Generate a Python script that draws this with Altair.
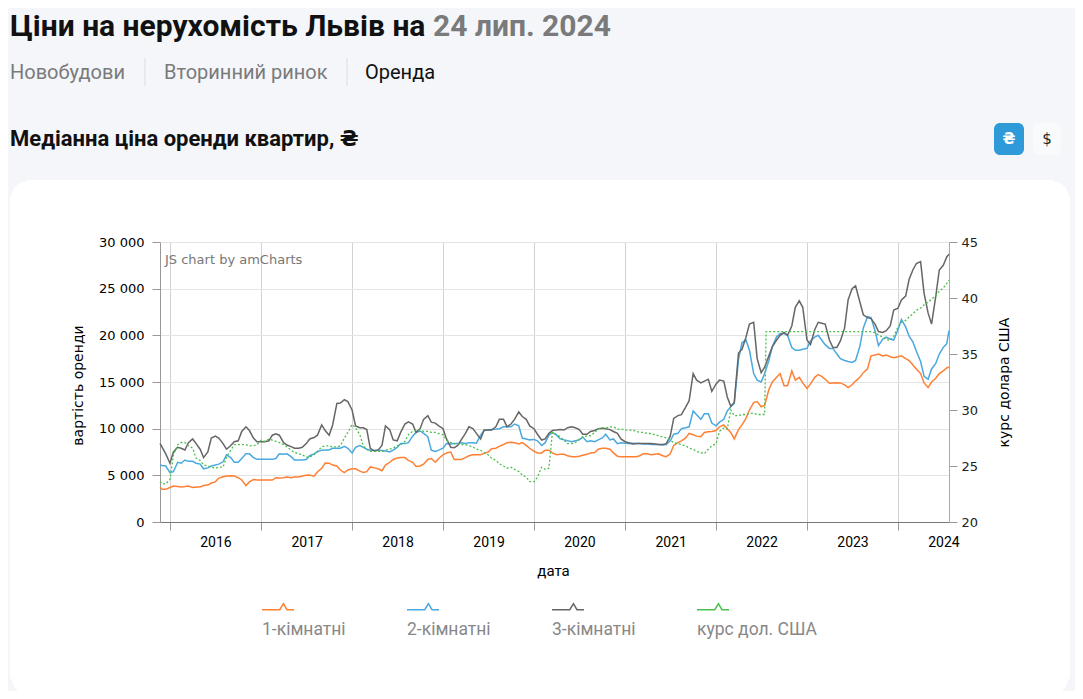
import altair as alt
import pandas as pd

# ---------------- text ----------------
TITLE_MAIN = "Ціни на нерухомість Львів на"
TITLE_DATE = "24 лип. 2024"
TABS = ["Новобудови", "Вторинний ринок", "Оренда"]
SUBTITLE = "Медіанна ціна оренди квартир, ₴"
SERIES = ["1-кімнатні", "2-кімнатні", "3-кімнатні", "курс дол. США"]
COLORS = ["#ff7f33", "#4aa9e0", "#666666", "#4cbf4c"]

# ---------------- data (1st and 15th of every month) ----------------
months = ([(2015, 12)] + [(y, m) for y in range(2016, 2024) for m in range(1, 13)]
          + [(2024, m) for m in range(1, 8)])
dates = (["2015-11-22"]
         + [f"{y}-{m:02d}-{d}" for (y, m) in months for d in ("01", "15")]
         + ["2024-07-24"])

rent_1 = [
    3700,
    3500, 3500,
    # 2016
    3700, 3860, 3800, 3750, 3800, 3860, 3700, 3750, 3750, 3910, 3960, 4180,
    4300, 4710, 4850, 4930, 4950, 4930, 4750, 4500, 3900, 4290, 4550, 4500,
    # 2017
    4500, 4500, 4500, 4500, 4750, 4710, 4750, 4820, 4750, 4820, 4820, 4930,
    5000, 5030, 4900, 5360, 5750, 6320, 6300, 6100, 6000, 5570, 5300, 5570,
    # 2018
    5700, 5700, 5450, 5300, 5400, 5900, 5800, 5700, 5500, 6100, 6400, 6700,
    6850, 6900, 6900, 6600, 6400, 5950, 6000, 6200, 6700, 6800, 6400, 6800,
    # 2019
    7200, 7400, 7500, 6700, 6700, 6700, 6900, 7100, 7200, 7200, 7200, 7350,
    7500, 7850, 7900, 8100, 8300, 8500, 8550, 8500, 8350, 8500, 8200, 7900,
    # 2020
    7600, 7400, 7400, 7700, 7700, 7400, 7200, 7250, 7250, 7100, 7000, 7000,
    7050, 7150, 7250, 7400, 7450, 7800, 7890, 7900, 7800, 7400, 7050, 7000,
    # 2021
    7000, 7000, 7000, 7000, 7100, 7300, 7300, 7200, 7250, 7300, 7100, 7000,
    7300, 8200, 8500, 8700, 9000, 9500, 9350, 9200, 9150, 9600, 9680, 9700,
    # 2022
    9800, 10200, 10400, 10000, 9600, 8900, 9900, 10400, 11100, 12000, 12800, 12900,
    12350, 12500, 14200, 15000, 15500, 15900, 14600, 14600, 16200, 15200, 15500, 14900,
    # 2023
    14300, 14800, 15500, 15800, 15600, 15300, 14860, 14900, 14930, 14900, 14700, 14400,
    14700, 15100, 15500, 16000, 16400, 17800, 17900, 18000, 17800, 17900, 17700, 17600,
    # 2024
    17700, 17800, 17500, 17300, 16820, 16400, 15900, 14900, 14400, 15000, 15400, 15900,
    16200, 16500,
    16600,
]

rent_2 = [
    6100,
    6050, 6000,
    # 2016
    5300, 5400, 6400, 6300, 6640, 6500, 6500, 6300, 6200, 5700, 5800, 6000,
    6100, 6200, 6450, 7200, 6900, 6400, 6400, 6800, 7300, 7300, 6900, 6710,
    # 2017
    6710, 6710, 6710, 6710, 6800, 7300, 7250, 7300, 7000, 6640, 6640, 6640,
    6700, 7100, 7290, 7530, 7700, 7710, 7710, 7890, 7890, 7900, 8100, 7890,
    # 2018
    7400, 8000, 8200, 8000, 7800, 7700, 7700, 7700, 7650, 7600, 7500, 7700,
    8000, 8400, 8400, 8500, 9200, 9600, 9750, 9500, 9140, 7700, 7550, 7700,
    # 2019
    7900, 8400, 8350, 8400, 8400, 8500, 8400, 8500, 8500, 8450, 9300, 9800,
    9850, 9900, 9950, 10000, 10200, 10200, 10200, 10500, 10300, 9000, 8900, 8800,
    # 2020
    8850, 8700, 8200, 8500, 9300, 9600, 9300, 8900, 8800, 8700, 8600, 8700,
    8800, 9100, 8600, 8700, 8600, 8800, 9000, 9400, 8800, 8900, 8400, 8500,
    # 2021
    8430, 8400, 8430, 8400, 8400, 8350, 8350, 8300, 8300, 8300, 8250, 8300,
    8700, 9400, 9500, 10000, 10100, 10200, 11900, 11500, 11000, 11600, 11600, 10600,
    # 2022
    10300, 10700, 11000, 11900, 12350, 12700, 17400, 19200, 19500, 18400, 15900, 15200,
    15000, 15900, 17300, 18800, 19850, 20200, 20200, 20000, 18700, 18400, 18400, 18500,
    # 2023
    18600, 19400, 19800, 20000, 19500, 19000, 18600, 18600, 18000, 17500, 17300, 17200,
    17100, 17300, 18800, 20800, 22000, 21900, 20500, 18900, 19600, 19800, 19600, 19500,
    # 2024
    20600, 21700, 20900, 19900, 19300, 18300, 17200, 15600, 15300, 16400, 17000, 18000,
    18700, 19100,
    20500,
]

rent_3 = [
    8430,
    8000, 7300,
    # 2016
    6300, 7500, 8000, 7900, 7710, 8500, 8900, 8400, 7800, 6900, 7500, 9000,
    9200, 9000, 8400, 7800, 8200, 8600, 8700, 9700, 10200, 9800, 9000, 8600,
    # 2017
    8600, 8600, 8700, 9300, 9450, 9300, 8500, 8250, 8070, 7900, 7900, 8000,
    8400, 8900, 9050, 9300, 10400, 9800, 9300, 10400, 12700, 12750, 13100, 12900,
    # 2018
    12000, 10300, 10100, 10100, 9900, 7900, 7600, 7700, 8200, 10300, 9900, 8800,
    8700, 9600, 10500, 10740, 10500, 9600, 10000, 11000, 11400, 10700, 10600, 10300,
    # 2019
    10000, 8900, 8000, 7950, 8200, 8800, 9500, 10200, 10000, 9500, 8900, 9850,
    9850, 9850, 10200, 11000, 11000, 10200, 10500, 11000, 11800, 11300, 11000, 10300,
    # 2020
    10000, 9400, 8780, 8900, 9500, 9800, 9850, 9900, 9850, 10100, 10200, 10100,
    9900, 9400, 9400, 9700, 9800, 10000, 10040, 10000, 9900, 9700, 9500, 8900,
    # 2021
    8600, 8500, 8360, 8400, 8400, 8400, 8400, 8400, 8350, 8300, 8300, 8400,
    9200, 11100, 11400, 11500, 12300, 13000, 15900, 15200, 14900, 15100, 15300, 14000,
    # 2022
    14800, 15200, 15100, 13400, 12400, 12800, 18100, 18500, 19800, 21200, 21400, 17500,
    16000, 16600, 17800, 18800, 19500, 20000, 20300, 20000, 21000, 23000, 23700, 23000,
    # 2023
    19500, 19000, 20600, 21400, 21300, 21200, 19500, 18700, 18700, 19400, 20800, 23800,
    25000, 25300, 23600, 22200, 21900, 21800, 21200, 20400, 20300, 20500, 21000, 22700,
    # 2024
    22900, 23800, 24200, 26000, 27000, 27700, 27900, 24500, 22400, 21200, 24200, 27000,
    27500, 28400,
    28700,
]

# USD rate: same dates plus the official-rate jump on 2022-07-21
jump_at = dates.index("2022-07-15") + 1
usd_dates = dates[:jump_at] + ["2022-07-21"] + dates[jump_at:]
usd = [
    23.6,
    23.4, 23.4,
    # 2016
    23.8, 26.0, 26.9, 27.1, 27.1, 26.8, 26.6, 25.7, 25.5, 25.1, 25.0, 24.9,
    24.8, 24.9, 24.9, 25.8, 26.4, 26.9, 26.9, 26.9, 26.9, 26.8, 26.8, 26.9,
    # 2017
    27.3, 27.2, 27.4, 27.3, 27.2, 27.1, 26.9, 26.7, 26.4, 26.2, 26.1, 26.0,
    25.8, 25.8, 26.0, 26.3, 26.7, 26.8, 26.8, 26.7, 26.7, 26.8, 27.5, 28.0,
    # 2018
    28.7, 28.4, 27.8, 26.8, 26.5, 26.3, 26.3, 26.3, 26.3, 26.4, 26.5, 26.6,
    26.8, 26.9, 27.2, 27.8, 28.1, 28.2, 28.2, 28.1, 28.1, 28.0, 28.0, 27.9,
    # 2019
    27.8, 27.3, 27.1, 27.0, 27.0, 26.9, 26.9, 26.8, 26.7, 26.5, 26.4, 26.2,
    26.0, 25.7, 25.5, 25.2, 25.0, 24.8, 24.9, 24.7, 24.5, 24.2, 24.0, 23.6,
    # 2020
    23.6, 24.0, 24.9, 24.7, 24.8, 28.0, 27.8, 27.6, 27.3, 27.0, 27.0, 27.1,
    27.4, 27.6, 27.7, 27.7, 28.0, 28.3, 28.4, 28.4, 28.5, 28.5, 28.3, 28.3,
    # 2021
    28.2, 28.2, 28.2, 28.1, 28.0, 28.0, 27.9, 27.9, 27.8, 27.7, 27.6, 27.5,
    27.3, 27.1, 27.0, 26.9, 26.8, 26.6, 26.5, 26.3, 26.2, 26.1, 26.5, 26.8,
    # 2022
    27.0, 28.1, 28.4, 28.3, 30.0, 29.5, 29.5, 29.6, 29.6, 29.7, 29.7, 29.6,
    29.6, 29.6, 37.0, 37.0, 37.0, 37.0, 37.0, 37.0, 37.0, 37.0, 37.0, 37.0, 37.0,
    # 2023
    37.0, 37.0, 37.0, 37.0, 37.0, 37.0, 37.0, 37.0, 37.0, 37.0, 37.0, 37.0,
    37.0, 37.0, 37.0, 37.0, 37.0, 37.0, 36.9, 36.7, 36.5, 36.3, 36.2, 36.6,
    # 2024
    37.4, 37.8, 38.0, 38.3, 38.6, 38.9, 39.1, 39.4, 39.6, 39.9, 40.2, 40.6,
    40.9, 41.3,
    41.6,
]

assert len(rent_1) == len(dates) and len(rent_2) == len(dates) and len(rent_3) == len(dates)
assert len(usd) == len(usd_dates)

rent_df = pd.concat([
    pd.DataFrame({"date": dates, "series": SERIES[0], "value": rent_1}),
    pd.DataFrame({"date": dates, "series": SERIES[1], "value": rent_2}),
    pd.DataFrame({"date": dates, "series": SERIES[2], "value": rent_3}),
], ignore_index=True)
usd_df = pd.DataFrame({"date": usd_dates, "series": SERIES[3], "usd": usd})

# ---------------- layout helpers (page coords -> plot coords) ----------------
OX, OY = 160, 242
W, H = 789, 280


def one():
    return pd.DataFrame({"k": [0]})


def text(t, x, y, size, color="#000000", weight="normal", font="Roboto",
         align="left", baseline="alphabetic"):
    return alt.Chart(pd.DataFrame({"t": [t]})).mark_text(
        align=align, baseline=baseline, font=font, fontSize=size,
        fontWeight=weight, color=color
    ).encode(x=alt.value(x - OX), y=alt.value(y - OY), text="t:N")


def box(x1, x2, y1, y2, color, radius=0):
    return alt.Chart(one()).mark_rect(color=color, cornerRadius=radius, opacity=1).encode(
        x=alt.value(x1 - OX), x2=alt.value(x2 - OX),
        y=alt.value(y1 - OY), y2=alt.value(y2 - OY))


def vline(x, y1, y2, color):
    return alt.Chart(one()).mark_rule(color=color, strokeWidth=1).encode(
        x=alt.value(x - OX), y=alt.value(y1 - OY), y2=alt.value(y2 - OY))


def dot(x, y, r, color):
    return alt.Chart(one()).mark_circle(size=3.1416 * r * r, color=color, opacity=1).encode(
        x=alt.value(x - OX), y=alt.value(y - OY))


BG = "#f4f6fa"
decor = [
    # page background outside the white card
    box(0, 1080, 0, 180, BG),
    box(0, 10, 180, 700, BG),
    box(1070, 1080, 180, 700, BG),
    # rounded corners of the card
    box(10, 26, 180, 196, BG), box(1054, 1070, 180, 196, BG),
    box(10, 26, 679, 700, BG), box(1054, 1070, 679, 700, BG),
    dot(26, 196, 16, "white"), dot(1054, 196, 16, "white"),
    dot(26, 679, 16, "white"), dot(1054, 679, 16, "white"),
    # header
    text(TITLE_MAIN, 10, 36, 30, "#111111", "bold"),
    text(TITLE_DATE, 433, 36, 30, "#7a7a7a", "bold"),
    text(TABS[0], 10, 79, 20, "#7a7a7a"),
    text(TABS[1], 164, 79, 20, "#7a7a7a"),
    text(TABS[2], 365, 79, 20, "#111111"),
    vline(145, 58, 86, "#dddddd"),
    vline(347, 58, 86, "#dddddd"),
    text(SUBTITLE, 10, 146, 22, "#111111", "bold", font="Roboto, DejaVu Sans"),
    box(994, 1024, 123, 155, "#2e9bd8", 6),
    box(1033, 1061, 123, 155, "#f9fafb", 6),
    text("₴", 1009, 139, 15, "white", "bold", font="DejaVu Sans", align="center", baseline="middle"),
    text("$", 1047, 139, 15, "#222222", "normal", font="DejaVu Sans", align="center", baseline="middle"),
    text("JS chart by amCharts", 165, 264, 13, "#777777", font="DejaVu Sans"),
]

# ---------------- chart ----------------
x_scale = alt.Scale(type="utc", domain=[alt.DateTime(year=2015, month=11, date=22, utc=True),
                                        alt.DateTime(year=2024, month=7, date=24, utc=True)])
x_axis = alt.Axis(
    title="дата", tickCount={"interval": "year", "step": 1},
    labelExpr="utcFormat(datum.value, '%Y')", labelOffset=45.5, labelFlush=False,
    labelOverlap=False, labelBound=False,
    grid=True, gridColor="#d2d2d2", tickSize=8, tickColor="#999999",
    domainColor="#777777", labelFont="Roboto", labelFontSize=14, labelColor="#000000",
    labelPadding=5, titleFont="Roboto", titleFontSize=15, titleFontWeight="normal",
    titleColor="#000000", titleX=393, titleY=53, titleBaseline="alphabetic")

y_left_axis = alt.Axis(
    values=[0, 5000, 10000, 15000, 20000, 25000, 30000],
    labelExpr="replace(format(datum.value, ','), ',', ' ')",
    title="вартість оренди", titleX=-78, titleY=143, titleAngle=270,
    titleAlign="center", titleBaseline="alphabetic",
    titleFont="DejaVu Sans", titleFontSize=14, titleFontWeight="normal", titleColor="#000000",
    labelFont="DejaVu Sans", labelFontSize=13, labelColor="#000000", labelPadding=8,
    tickSize=8, tickColor="#999999", domainColor="#999999", gridColor="#e3e3e3")

y_right_axis = alt.Axis(
    orient="right", values=[20, 25, 30, 35, 40, 45],
    title="курс долара США", titleX=59, titleY=140, titleAngle=270,
    titleAlign="center", titleBaseline="alphabetic",
    titleFont="DejaVu Sans", titleFontSize=14, titleFontWeight="normal", titleColor="#000000",
    labelFont="DejaVu Sans", labelFontSize=13, labelColor="#222222", labelPadding=4,
    tickSize=8, tickColor="#999999", domainColor="#aaaaaa", gridColor="#e3e3e3")

color_scale = alt.Scale(domain=SERIES, range=COLORS)
legend = alt.Legend(
    orient="none", legendX=101, legendY=362, direction="horizontal", title=None,
    symbolType="M-1,-0.72L0.11,-0.72L0.34,-1.1L0.56,-0.72L1,-0.72",
    symbolSize=1024, symbolStrokeWidth=1.5, symbolFillColor="transparent",
    labelOffset={"expr": "-33"}, labelBaseline="top", labelAlign="left",
    labelFont="Roboto", labelFontSize=17.5, labelColor="#888888",
    columnPadding=58, padding=0)

rent = alt.Chart(rent_df).mark_line(strokeWidth=1.5).encode(
    x=alt.X("date:T", scale=x_scale, axis=x_axis),
    y=alt.Y("value:Q", scale=alt.Scale(domain=[0, 30000], nice=False), axis=y_left_axis),
    color=alt.Color("series:N", scale=color_scale, legend=legend),
    detail="series:N",
)

rate = alt.Chart(usd_df).mark_line(strokeWidth=1.3, strokeDash=[2, 2]).encode(
    x=alt.X("date:T", scale=x_scale, axis=x_axis),
    y=alt.Y("usd:Q", scale=alt.Scale(domain=[20, 45], nice=False, zero=False), axis=y_right_axis),
    color=alt.Color("series:N", scale=color_scale, legend=None),
)

chart = alt.layer(*decor, rent, rate).resolve_scale(y="independent").properties(
    width=W, height=H,
    padding={"left": 152, "top": 234, "right": 126, "bottom": 169},
    autosize=alt.AutoSizeParams(type="none"),
    background="white",
).configure_view(stroke=None)

chart.save("out.html", embed_options={"renderer": "svg", "actions": False})
